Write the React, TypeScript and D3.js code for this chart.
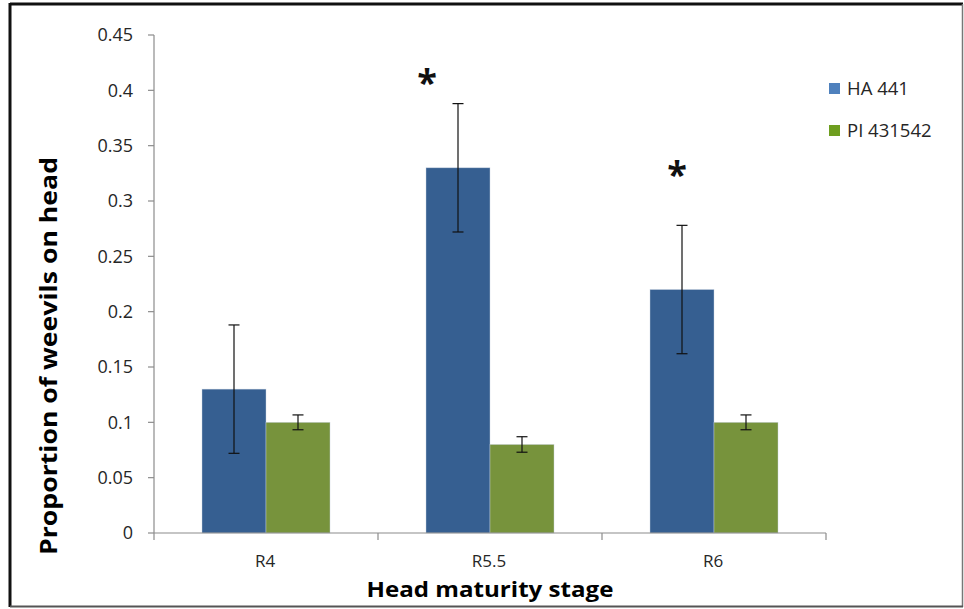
import React from "react";
import * as d3 from "d3";

// Head maturity stages on the x axis
const stages = ["R4", "R5.5", "R6"];
// Series names
const seriesNames = ["HA 441", "PI 431542"];
// Mean proportion of weevils on head, per series
const ha441 = [0.13, 0.33, 0.22];
const pi431542 = [0.1, 0.08, 0.1];
// Standard errors
const ha441Err = [0.058, 0.058, 0.058];
const pi431542Err = [0.0067, 0.007, 0.0067];
// Y tick values
const yTicks = [0, 0.05, 0.1, 0.15, 0.2, 0.25, 0.3, 0.35, 0.4, 0.45];
// Significance markers: stage and height (data units) of the asterisk
const markers = [
  { stage: "R5.5", y: 0.416, dx: -31 },
  { stage: "R6", y: 0.333, dx: -5 },
];

const W = 964;
const H = 609;
const plot = { left: 154, right: 826, top: 35, bottom: 533 };
const colors = ["#365F91", "#77933C"];
const legendColors = ["#4F81BD", "#6E9E1F"];
const FONT = "'Open Sans', 'DejaVu Sans', sans-serif";

export default function App() {
  const x = d3
    .scaleBand<string>()
    .domain(stages)
    .range([plot.left, plot.right])
    .paddingInner(0.4286)
    .paddingOuter(0.2143);
  const xs = d3
    .scaleBand<string>()
    .domain(seriesNames)
    .range([0, x.bandwidth()]);
  const y = d3.scaleLinear().domain([0, 0.45]).range([plot.bottom, plot.top]);

  const series = [
    { name: seriesNames[0], values: ha441, err: ha441Err },
    { name: seriesNames[1], values: pi431542, err: pi431542Err },
  ];

  const step = x.step();
  const boundaries = d3.range(stages.length + 1).map((i) => plot.left + i * step);

  return (
    <svg
      width={W}
      height={H}
      style={{ position: "absolute", left: 0, top: 0, display: "block", background: "#fff" }}
      fontFamily={FONT}
    >
      <rect x={0} y={0} width={W} height={H} fill="#fff" />
      {/* outer frame */}
      <line x1={10} y1={4} x2={963} y2={4} stroke="#111" strokeWidth={3} />
      <line x1={10} y1={3} x2={10} y2={607} stroke="#111" strokeWidth={3} />
      <line x1={962.5} y1={4} x2={962.5} y2={607} stroke="#777" strokeWidth={1.5} />
      <line x1={10} y1={606.5} x2={963} y2={606.5} stroke="#555" strokeWidth={2} />

      {/* bars */}
      {series.map((s, si) =>
        stages.map((st, i) => (
          <rect
            key={`${si}-${i}`}
            x={(x(st) as number) + (xs(s.name) as number)}
            y={y(s.values[i])}
            width={xs.bandwidth()}
            height={y(0) - y(s.values[i])}
            fill={colors[si]}
            stroke="#c9d3e0"
            strokeWidth={0.6}
            strokeOpacity={0.7}
          />
        ))
      )}

      {/* error bars */}
      {series.map((s, si) =>
        stages.map((st, i) => {
          const cx = (x(st) as number) + (xs(s.name) as number) + xs.bandwidth() / 2;
          const hi = y(s.values[i] + s.err[i]);
          const lo = y(s.values[i] - s.err[i]);
          return (
            <g key={`e-${si}-${i}`} stroke="#111" strokeWidth={1.2}>
              <line x1={cx} x2={cx} y1={hi} y2={lo} />
              <line x1={cx - 5.5} x2={cx + 5.5} y1={hi} y2={hi} />
              <line x1={cx - 5.5} x2={cx + 5.5} y1={lo} y2={lo} />
            </g>
          );
        })
      )}

      {/* y axis */}
      <line x1={plot.left} x2={plot.left} y1={plot.top} y2={plot.bottom} stroke="#8c8c8c" strokeWidth={1.2} />
      {yTicks.map((t) => (
        <g key={t}>
          <line x1={plot.left - 6} x2={plot.left} y1={y(t)} y2={y(t)} stroke="#8c8c8c" strokeWidth={1.2} />
          <text
            x={plot.left - 21}
            y={y(t)}
            dy="0.36em"
            textAnchor="end"
            fontSize={18}
            fill="#262626"
          >
            {t === 0 ? "0" : d3.format("")(+t.toFixed(2))}
          </text>
        </g>
      ))}

      {/* x axis */}
      <line x1={plot.left} x2={plot.right} y1={plot.bottom} y2={plot.bottom} stroke="#8c8c8c" strokeWidth={1.2} />
      {boundaries.map((b, i) => (
        <line key={i} x1={b} x2={b} y1={plot.bottom} y2={plot.bottom + 7} stroke="#8c8c8c" strokeWidth={1.2} />
      ))}
      {stages.map((st) => (
        <text
          key={st}
          x={(x(st) as number) + x.bandwidth() / 2 - 1}
          y={567}
          textAnchor="middle"
          fontSize={17}
          fill="#262626"
        >
          {st}
        </text>
      ))}

      {/* significance markers */}
      {markers.map((m) => (
        <text
          key={m.stage}
          x={(x(m.stage) as number) + (xs(seriesNames[0]) as number) + xs.bandwidth() / 2 + m.dx}
          y={y(m.y)}
          dy="0.62em"
          textAnchor="middle"
          fontSize={36}
          fontWeight="bold"
          fill="#111"
        >
          *
        </text>
      ))}

      {/* axis titles */}
      <text
        x={490}
        y={597}
        textAnchor="middle"
        fontSize={21}
        fontWeight="bold"
        fill="#000"
        textLength={247}
        lengthAdjust="spacingAndGlyphs"
      >
        Head maturity stage
      </text>
      <text
        transform={`translate(57, ${356}) rotate(-90)`}
        textAnchor="middle"
        fontSize={24}
        fontWeight="bold"
        fill="#000"
        textLength={398}
        lengthAdjust="spacingAndGlyphs"
      >
        Proportion of weevils on head
      </text>

      {/* legend */}
      {seriesNames.map((n, i) => (
        <g key={n} transform={`translate(829, ${83 + i * 42})`}>
          <rect x={0} y={0} width={11} height={11} fill={legendColors[i]} />
          <text x={18} y={5.5} dy="0.36em" fontSize={18.5} fill="#262626">
            {n}
          </text>
        </g>
      ))}
    </svg>
  );
}
